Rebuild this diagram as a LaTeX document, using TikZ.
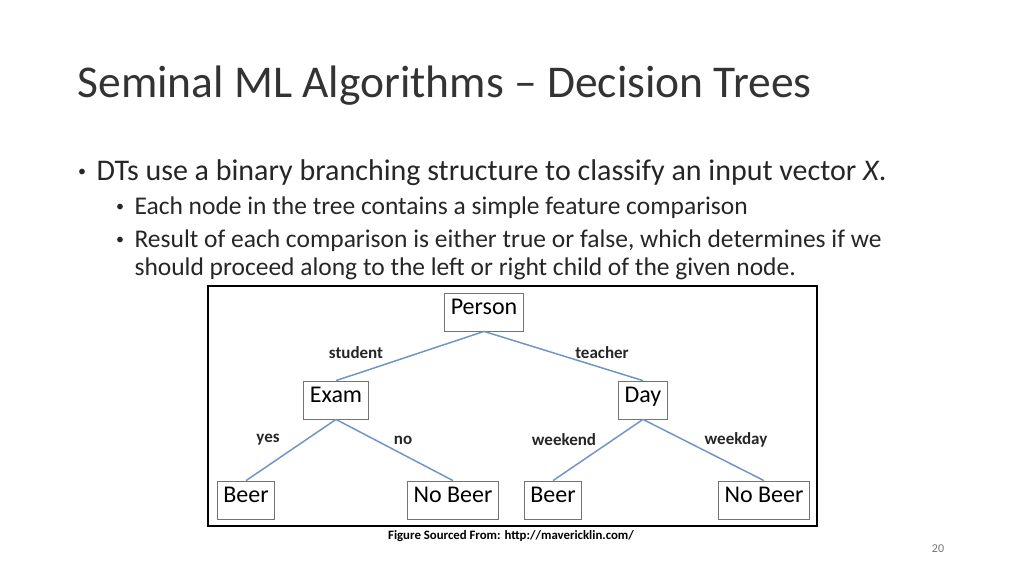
\documentclass[tikz,border=0pt]{standalone}
\usepackage{fontspec}
\setmainfont{Carlito}
\usetikzlibrary{positioning}
\definecolor{edgeblue}{RGB}{112,150,200}

\begin{document}
\begin{tikzpicture}
[x=1pt, y=-1pt,
box/.style={draw=black!55, line width=0.8pt, fill=white, font=\fontsize{24}{26}\selectfont, minimum height=38pt, inner xsep=6pt, text height=0.68em, text depth=0.2em},
branch/.style={draw=edgeblue, line width=1.5pt},
lbl/.style={font=\fontsize{17}{18}\selectfont\bfseries, text=black!85},
txt/.style={anchor=west, text=black!85},
dot/.style={font=\fontsize{16}{18}\selectfont, text=black!85}]
\useasboundingbox (0,0) rectangle (1024,576);
% title and bullets
\node[txt, font=\fontsize{45.5}{48}\selectfont, text=black!80] (title) at (74,86) {Seminal ML Algorithms -- Decision Trees};
\node[dot] (d1) at (82,173) {\textbullet};
\node[txt, font=\fontsize{30}{32}\selectfont] (b1) at (93,173) {DTs use a binary branching structure to classify an input vector \textit{X}.};
\node[dot] (d2) at (120,208) {\textbullet};
\node[txt, font=\fontsize{25.5}{27}\selectfont] (b2) at (131,208) {Each node in the tree contains a simple feature comparison};
\node[dot] (d3) at (120,241) {\textbullet};
\node[txt, font=\fontsize{25.5}{27}\selectfont] (b3) at (131,241) {Result of each comparison is either true or false, which determines if we};
\node[txt, font=\fontsize{25.5}{27}\selectfont] (b4) at (131,269) {should proceed along to the left or right child of the given node.};
% figure
\draw[line width=2pt] (208,286) rectangle (817,526);
\node[box] (person) at (484,312) {Person};
\node[box] (exam) at (336,400) {Exam};
\node[box] (day) at (643,400) {Day};
\node[box] (beerA) at (246,500) {Beer};
\node[box] (nobeerA) at (453,500) {No Beer};
\node[box] (beerB) at (553,500) {Beer};
\node[box] (nobeerB) at (764,500) {No Beer};
\draw[branch] (person.south) -- (exam.north);
\draw[branch] (person.south) -- (day.north);
\draw[branch] (exam.south) -- (beerA.north);
\draw[branch] (exam.south) -- (nobeerA.north);
\draw[branch] (day.south) -- (beerB.north);
\draw[branch] (day.south) -- (nobeerB.north);
\node[lbl] (student) at (356,353) {student};
\node[lbl] (teacher) at (602,353) {teacher};
\node[lbl] (yes) at (268,440) {yes};
\node[lbl] (no) at (403,440) {no};
\node[lbl] (weekend) at (564,440) {weekend};
\node[lbl] (weekday) at (736,440) {weekday};
\node[font=\fontsize{12.8}{14}\selectfont\bfseries] (source) at (511,536) {Figure Sourced From: http://mavericklin.com/};
\node[font=\fontsize{12}{13}\selectfont, text=black!55] (page) at (938,549) {20};
\end{tikzpicture}
\end{document}
